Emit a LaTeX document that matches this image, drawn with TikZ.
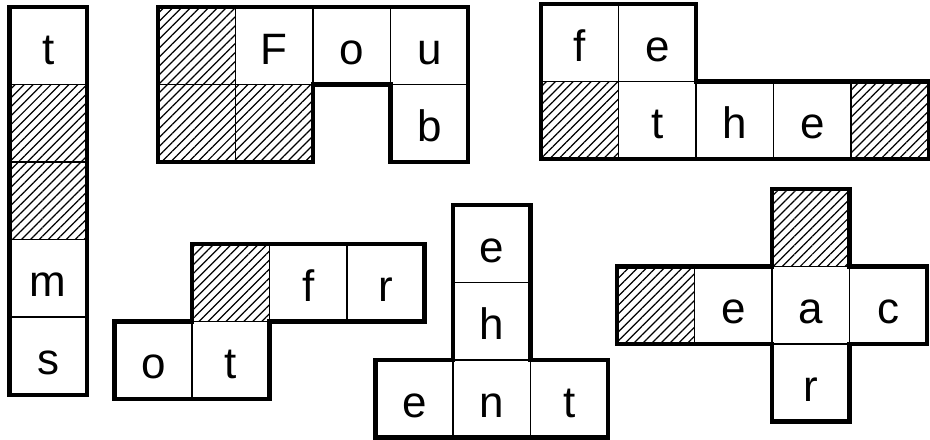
\documentclass[tikz,border=0pt]{standalone}
\usepackage{fontspec}
\setmainfont{Liberation Sans}
\usepackage{tikz}
\usetikzlibrary{positioning, patterns.meta}

\begin{document}
\begin{tikzpicture}[x=0.01cm, y=-0.01cm, node distance=0pt,
        celda/.style={rectangle, draw, line width=0.45pt, minimum size=0.775cm, inner sep=0pt, outer sep=0pt, text height=0.37cm, text depth=0pt, font=\fontsize{12.5}{14}\selectfont},
        rayada/.style={celda, pattern={Lines[angle=45, distance=1.8pt, line width=0.35pt]}},
        borde/.style={line width=1.25pt, line join=miter}]
        \useasboundingbox (0,0) rectangle (930,440);
        % columna t-m-s
        \node[celda, anchor=north west] (a1) at (9.5,7) {t};
        \node[rayada, below=of a1] (a2) {};
        \node[rayada, below=of a2] (a3) {};
        \node[celda, below=of a3] (a4) {m};
        \node[celda, below=of a4] (a5) {s};
        \draw[borde] (a1.north west) rectangle (a5.south east);
        % pieza F-o-u-b
        \node[rayada, anchor=north west] (b1) at (158,7) {};
        \node[celda, right=of b1] (b2) {F};
        \node[celda, right=of b2] (b3) {o};
        \node[celda, right=of b3] (b4) {u};
        \node[rayada, below=of b1] (b5) {};
        \node[rayada, below=of b2] (b6) {};
        \node[celda, below=of b4] (b7) {b};
        \draw[borde] (b1.north west) -- (b4.north east) -- (b7.south east) -- (b7.south west)
            -- (b3.south east) -- (b6.north east) -- (b6.south east) -- (b5.south west) -- cycle;
        % pieza f-e / t-h-e
        \node[celda, anchor=north west] (c1) at (541,4) {f};
        \node[celda, right=of c1] (c2) {e};
        \node[rayada, below=of c1] (c3) {};
        \node[celda, right=of c3] (c4) {t};
        \node[celda, right=of c4] (c5) {h};
        \node[celda, right=of c5] (c6) {e};
        \node[rayada, right=of c6] (c7) {};
        \draw[borde] (c1.north west) -- (c2.north east) -- (c5.north west) -- (c7.north east)
            -- (c7.south east) -- (c3.south west) -- cycle;
        % pieza f-r / o-t
        \node[rayada, anchor=north west] (d1) at (192,244) {};
        \node[celda, right=of d1] (d2) {f};
        \node[celda, right=of d2] (d3) {r};
        \node[celda, below=of d1] (d5) {t};
        \node[celda, left=of d5] (d4) {o};
        \draw[borde] (d1.north west) -- (d3.north east) -- (d3.south east) -- (d5.north east)
            -- (d5.south east) -- (d4.south west) -- (d4.north west) -- (d4.north east) -- cycle;
        % pieza e-h / e-n-t
        \node[celda, anchor=north west] (e1) at (453,205) {e};
        \node[celda, below=of e1] (e2) {h};
        \node[celda, below=of e2] (e4) {n};
        \node[celda, left=of e4] (e3) {e};
        \node[celda, right=of e4] (e5) {t};
        \draw[borde] (e1.north west) -- (e1.north east) -- (e5.north west) -- (e5.north east)
            -- (e5.south east) -- (e3.south west) -- (e3.north west) -- (e4.north west) -- cycle;
        % pieza en cruz e-a-c-r
        \node[rayada, anchor=north west] (f1) at (772,189) {};
        \node[celda, below=of f1] (f4) {a};
        \node[celda, left=of f4] (f3) {e};
        \node[rayada, left=of f3] (f2) {};
        \node[celda, right=of f4] (f5) {c};
        \node[celda, below=of f4] (f6) {r};
        \draw[borde] (f1.north west) -- (f1.north east) -- (f4.north east) -- (f5.north east)
            -- (f5.south east) -- (f4.south east) -- (f6.south east) -- (f6.south west)
            -- (f4.south west) -- (f2.south west) -- (f2.north west) -- (f4.north west) -- cycle;
    \end{tikzpicture}
\end{document}
